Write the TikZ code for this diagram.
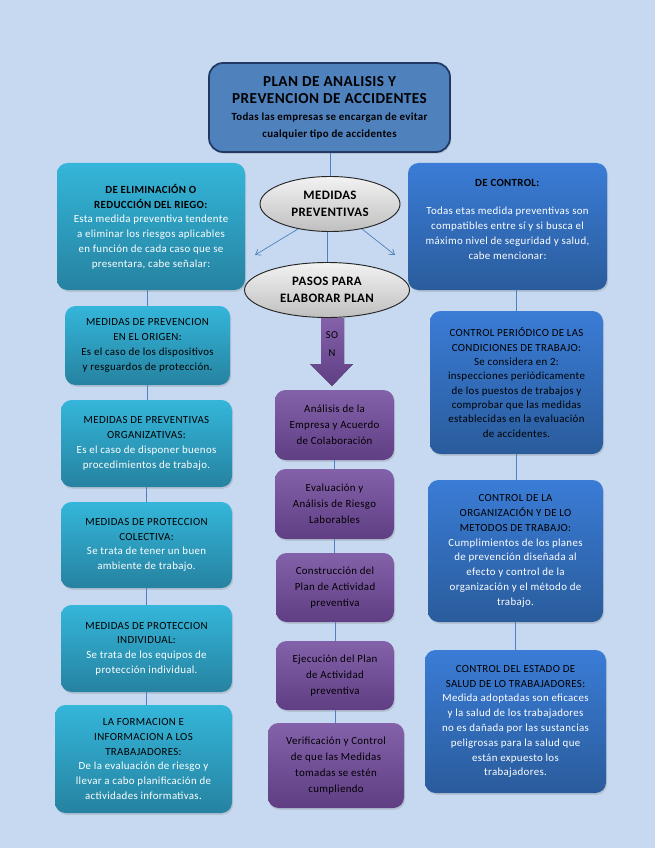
\documentclass[tikz,border=0pt]{standalone}
\usepackage{fontspec}
\setmainfont{Carlito}[LetterSpace=3]
\usetikzlibrary{shapes.geometric,arrows.meta,shadows}

\definecolor{bgcol}{RGB}{198,217,241}
\definecolor{titlefill}{RGB}{79,129,189}
\definecolor{titleline}{RGB}{31,56,100}
\definecolor{cyanT}{RGB}{52,182,218}
\definecolor{cyanB}{RGB}{38,130,160}
\definecolor{blueT}{RGB}{58,124,214}
\definecolor{blueB}{RGB}{42,92,156}
\definecolor{purpT}{RGB}{132,98,170}
\definecolor{purpB}{RGB}{96,62,132}
\definecolor{linkcol}{RGB}{79,129,189}

\newcommand{\bigt}{\fontsize{13}{14.7}\selectfont}
\newcommand{\smallt}{\fontsize{9.3}{14.7}\selectfont}

\begin{document}
\begin{tikzpicture}[x=0.03cm, y=-0.03cm,
  box/.style={rounded corners=9pt, align=center, inner sep=2pt,
              font=\fontsize{9.3}{12.6}\selectfont,
              drop shadow={opacity=0.25, shadow xshift=1pt, shadow yshift=-1.5pt}},
  cyanbox/.style={box, top color=cyanT, bottom color=cyanB},
  bluebox/.style={box, top color=blueT, bottom color=blueB},
  stepbox/.style={box, top color=purpT, bottom color=purpB, text=black,
                  font=\fontsize{9.3}{13.6}\selectfont},
  oval/.style={ellipse, draw=black!85, thick, top color=white!95!black,
               bottom color=black!25, align=center, inner sep=0pt,
               font=\fontsize{11}{15}\selectfont\bfseries},
  link/.style={linkcol, semithick},
  arr/.style={link, -{Straight Barb[angle=70:5pt]}}
]
  \fill[bgcol] (0,0) rectangle (655,848);

  % titulo
  \node[box, fill=titlefill, draw=titleline, line width=1.5pt, rounded corners=12pt,
        font=\bfseries, minimum width=241*0.03cm, minimum height=89*0.03cm] (plan) at (329.5,107.5)
    {\bigt PLAN DE ANALISIS Y\\[2.5pt]\bigt PREVENCION DE ACCIDENTES\\[2.5pt]
     \smallt Todas las empresas se encargan de evitar\\[2.5pt]\smallt cualquier tipo de accidentes};

  % ovalos
  \node[oval, minimum width=140*0.03cm, minimum height=55*0.03cm] (medidas) at (330,204)
    {MEDIDAS\\PREVENTIVAS};
  \node[oval, minimum width=165*0.03cm, minimum height=55*0.03cm] (pasos) at (327,290)
    {PASOS PARA\\ELABORAR PLAN};

  % columna izquierda
  \node[cyanbox, minimum width=188*0.03cm, minimum height=127*0.03cm] (elim) at (151,226.5)
    {\textbf{DE ELIMINACIÓN O}\\\textbf{REDUCCIÓN DEL RIEGO:}\\
     \color{white}Esta medida preventiva tendente\\\color{white}a eliminar los riesgos aplicables\\
     \color{white}en función de cada caso que se\\\color{white}presentara, cabe señalar:};
  \node[cyanbox, minimum width=165*0.03cm, minimum height=79*0.03cm] (origen) at (147.5,345.5)
    {MEDIDAS DE PREVENCION\\EN EL ORIGEN:\\Es el caso de los dispositivos\\y resguardos de protección.};
  \node[cyanbox, minimum width=171*0.03cm, minimum height=87*0.03cm] (organiz) at (146.5,443.5)
    {MEDIDAS DE PREVENTIVAS\\ORGANIZATIVAS:\\
     \color{white}Es el caso de disponer buenos\\\color{white}procedimientos de trabajo.};
  \node[cyanbox, minimum width=171*0.03cm, minimum height=86*0.03cm] (colect) at (146.5,545)
    {MEDIDAS DE PROTECCION\\COLECTIVA:\\
     \color{white}Se trata de tener un buen\\\color{white}ambiente de trabajo.};
  \node[cyanbox, minimum width=171*0.03cm, minimum height=87*0.03cm] (indiv) at (146.5,648.5)
    {MEDIDAS DE PROTECCION\\INDIVIDUAL:\\
     \color{white}Se trata de los equipos de\\\color{white}protección individual.};
  \node[cyanbox, minimum width=177*0.03cm, minimum height=108*0.03cm] (formac) at (143.5,759)
    {LA FORMACION E\\INFORMACION A LOS\\TRABAJADORES:\\
     \color{white}De la evaluación de riesgo y\\\color{white}llevar a cabo planificación de\\
     \color{white}actividades informativas.};

  % columna derecha
  \node[bluebox, minimum width=199*0.03cm, minimum height=127*0.03cm] (control) at (507.5,226.5)
    {\textbf{DE CONTROL:}\\[12pt]
     \color{white}Todas etas medida preventivas son\\\color{white}compatibles entre sí y si busca el\\
     \color{white}máximo nivel de seguridad y salud,\\\color{white}cabe mencionar:\\\mbox{}};
  \node[bluebox, minimum width=173*0.03cm, minimum height=143*0.03cm,
        font=\fontsize{9.3}{12.2}\selectfont] (periodico) at (516.5,382.5)
    {CONTROL PERIÓDICO DE LAS\\CONDICIONES DE TRABAJO:\\Se considera en 2:\\
     inspecciones periódicamente\\de los puestos de trabajos y\\comprobar que las medidas\\
     establecidas en la evaluación\\de accidentes.};
  \node[bluebox, minimum width=175*0.03cm, minimum height=142*0.03cm] (metodos) at (515.5,551)
    {CONTROL DE LA\\ORGANIZACIÓN Y DE LO\\METODOS DE TRABAJO:\\
     \color{white}Cumplimientos de los planes\\\color{white}de prevención diseñada al\\
     \color{white}efecto y control de la\\\color{white}organización y el método de\\\color{white}trabajo.};
  \node[bluebox, minimum width=181*0.03cm, minimum height=143*0.03cm] (salud) at (515.5,721.5)
    {CONTROL DEL ESTADO DE\\SALUD DE LO TRABAJADORES:\\
     \color{white}Medida adoptadas son eficaces\\\color{white}y la salud de los trabajadores\\
     \color{white}no es dañada por las sustancias\\\color{white}peligrosas para la salud que\\
     \color{white}están expuesto los\\\color{white}trabajadores.};

  % pasos
  \node[stepbox, minimum width=119*0.03cm, minimum height=70*0.03cm] (analisis) at (334.5,425)
    {Análisis de la\\Empresa y Acuerdo\\de Colaboración};
  \node[stepbox, minimum width=119*0.03cm, minimum height=70*0.03cm] (evalua) at (334.5,504)
    {Evaluación y\\Análisis de Riesgo\\Laborables};
  \node[stepbox, minimum width=118*0.03cm, minimum height=69*0.03cm] (constr) at (335,587.5)
    {Construcción del\\Plan de Actividad\\preventiva};
  \node[stepbox, minimum width=118*0.03cm, minimum height=69*0.03cm] (ejec) at (335,675.5)
    {Ejecución del Plan\\de Actividad\\preventiva};
  \node[stepbox, minimum width=136*0.03cm, minimum height=85*0.03cm] (verif) at (336,765.5)
    {Verificación y Control\\de que las Medidas\\tomadas se estén\\cumpliendo};

  % flecha SON
  \fill[top color=purpT, bottom color=purpB]
    (321,318) -- (344,318) -- (344,364) -- (353,364) -- (332,386)
    -- (310,364) -- (321,364) -- cycle;
  \node[font=\fontsize{9}{15}\selectfont, text=black, align=center] (son) at (332,344) {SO\\N};

  % conexiones
  \draw[link] (plan.south -| medidas.north) -- (medidas.north);
  \draw[link] (medidas.south -| pasos.north) -- (pasos.north);
  \coordinate (izq) at (255,255);
  \coordinate (der) at (395,255);
  \draw[arr] (medidas.218) -- (izq);
  \draw[arr] (medidas.322) -- (der);

  \draw[link] (origen.north |- elim.south) -- (origen.north);
  \draw[link] (origen.south) -- (origen.south |- organiz.north);
  \draw[link] (organiz.south) -- (organiz.south |- colect.north);
  \draw[link] (colect.south) -- (colect.south |- indiv.north);
  \draw[link] (indiv.south) -- (indiv.south |- formac.north);

  \draw[link] (periodico.north |- control.south) -- (periodico.north);
  \draw[link] (periodico.south) -- (periodico.south |- metodos.north);
  \draw[link] (metodos.south) -- (metodos.south |- salud.north);

  \draw[link] (analisis.south) -- (analisis.south |- evalua.north);
  \draw[link] (evalua.south) -- (evalua.south |- constr.north);
  \draw[link] (constr.south) -- (constr.south |- ejec.north);
  \draw[link] (ejec.south) -- (ejec.south |- verif.north);
\end{tikzpicture}
\end{document}
